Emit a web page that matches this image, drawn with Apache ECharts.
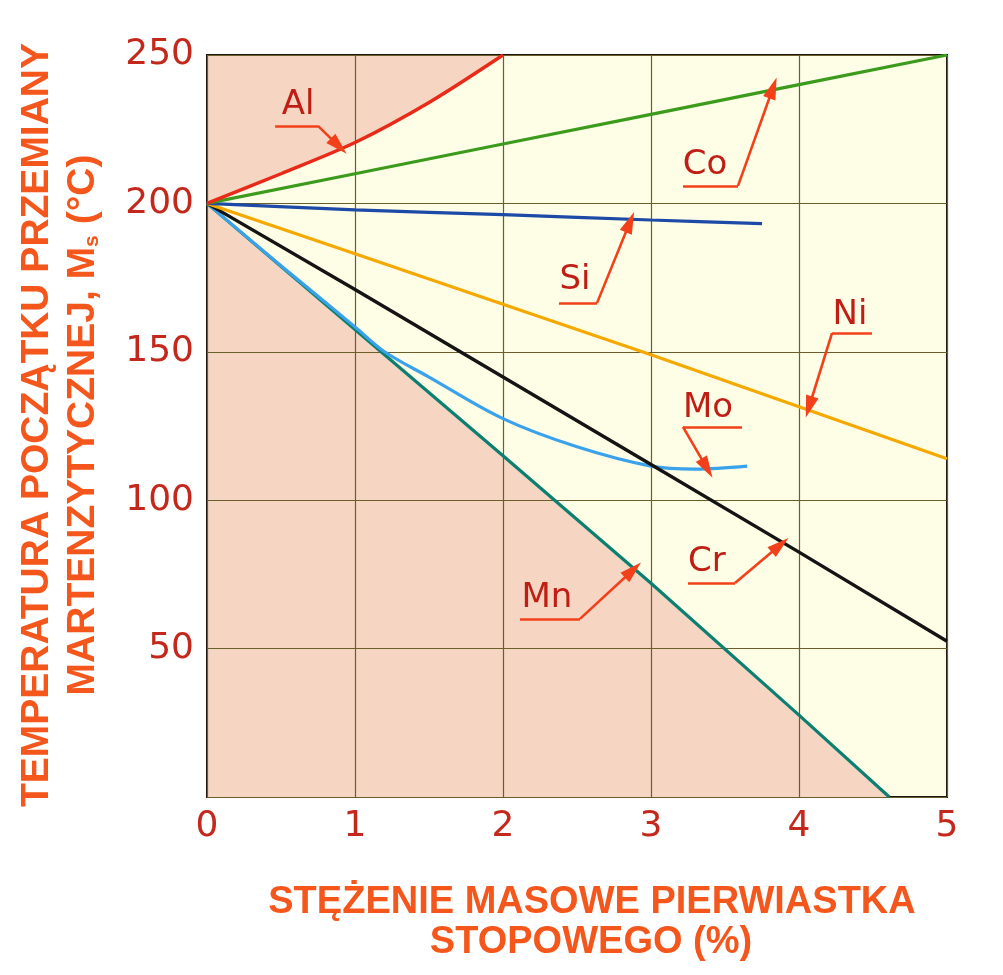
<!DOCTYPE html>
<html>
<head>
<meta charset="utf-8">
<script src="https://cdn.jsdelivr.net/npm/echarts@6/dist/echarts.min.js"></script>
<style>
html,body{margin:0;padding:0;background:#fff;}
#chart{width:1003px;height:975px;}
</style>
</head>
<body>
<div id="chart"></div>
<script>
// ---- data (concentration %, Ms temperature °C) ----
const xTicks = [0, 1, 2, 3, 4, 5];
const yTicks = [50, 100, 150, 200, 250];
const alData = [[0,200],[0.5,210],[1,220.5],[1.5,234],[2,250]];
const coData = [[0,200],[1,210],[2,220],[3,230],[4,240],[5,250]];
const siData = [[0,200],[1,197.8],[2,196.2],[3,194.4],[3.75,193.2]];
const niData = [[0,200],[1,183],[2,166],[3,149],[4,131.5],[5,114]];
const crData = [[0,200],[1,171],[2,141.5],[3,112],[4,82.5],[5,52.5]];
const moData = [[0,200],[0.5,179],[1,158.4],[1.2,150],[1.5,141.5],[2,127.5],[2.5,118],[3,111.5],[3.3,110.5],[3.65,111.5]];
const mnData = [[0,200],[1,157.5],[2,115],[3,72],[4,27.6],[4.61,0]];

// ---- annotations: [name, textPos, underline start, underline end (leader start), arrow tip] ----
const annotations = [
  ['Al', [0.615,233], [0.46,226.1], [0.75,226.1], [0.89,219.3]],
  ['Co', [3.365,212.9], [3.216,205.9], [3.588,205.9], [3.824,238.9]],
  ['Si', [2.486,174.2], [2.378,166.4], [2.635,166.4], [2.858,193.7]],
  ['Ni', [4.345,162.4], [4.493,156.3], [4.223,156.3], [4.068,131.4]],
  ['Mo', [3.385,131.1], [3.615,124.7], [3.216,124.7], [3.378,110.8]],
  ['Cr', [3.378,79.2], [3.25,72.1], [3.568,72.1], [3.872,84.9]],
  ['Mn', [2.297,67.0], [2.115,60.0], [2.52,60.0], [2.878,76.5]]
];

const chart = echarts.init(document.getElementById('chart'), null, {renderer:'canvas'});

const PINK = '#f6d6c2';
const YELLOW = '#fefee6';
const TICK_RED = '#c4281c';
const TITLE_ORANGE = '#f4561c';
const ANN_RED = '#c01e14';
const ARROW_RED = '#f2401a';

function lineSeries(name, data, color, width, smooth, extra) {
  return Object.assign({
    name: name, type: 'line', data: data, smooth: smooth,
    showSymbol: false, symbol: 'none', z: 4, silent: true,
    lineStyle: {color: color, width: width},
    emphasis: {disabled: true}
  }, extra || {});
}

const annMarkData = [];
annotations.forEach(a => {
  annMarkData.push([{coord: a[2], symbol: 'none'}, {coord: a[3], symbol: 'none'}]);
  annMarkData.push([{coord: a[3], symbol: 'none'}, {coord: a[4], symbol: 'triangle', symbolSize: [13, 22]}]);
});

const option = {
  animation: false,
  grid: {
    left: 207, right: 56, top: 55, bottom: 178,
    show: true, backgroundColor: YELLOW, borderColor: '#1a1410', borderWidth: 2
  },
  xAxis: {
    type: 'value', min: 0, max: 5, interval: 1, z: 3,
    axisLine: {show: false}, axisTick: {show: false},
    splitLine: {show: true, lineStyle: {color: '#6a5e2a', width: 1.2}},
    axisLabel: {
      color: TICK_RED, fontSize: 36, fontFamily: 'DejaVu Sans', margin: 12,
      formatter: v => xTicks.includes(v) ? String(v) : ''
    }
  },
  yAxis: {
    type: 'value', min: 0, max: 250, interval: 50, z: 3,
    axisLine: {show: false}, axisTick: {show: false},
    splitLine: {show: true, lineStyle: {color: '#6a5e2a', width: 1.2}},
    axisLabel: {
      color: TICK_RED, fontSize: 36, fontFamily: 'DejaVu Sans', margin: 13,
      formatter: v => yTicks.includes(v) ? String(v) : ''
    }
  },
  series: [
    // shaded regions
    lineSeries('AlArea', alData, 'transparent', 0, 0.3, {z: 1, areaStyle: {color: PINK, opacity: 1, origin: 'end'}}),
    lineSeries('MnArea', mnData, 'transparent', 0, false, {z: 1, areaStyle: {color: PINK, opacity: 1, origin: 'start'}}),
    // curves
    lineSeries('Mn', mnData, '#0c8070', 3.2, false),
    lineSeries('Mo', moData, '#3aa2ea', 3.2, 0.35),
    lineSeries('Cr', crData, '#141414', 3.4, false),
    lineSeries('Ni', niData, '#f5a800', 3.2, false),
    lineSeries('Si', siData, '#1c4aa6', 3.2, 0.3),
    lineSeries('Co', coData, '#3c9a1c', 3.2, false),
    lineSeries('Al', alData, '#ea2a18', 3.4, 0.3),
    // annotations
    {
      name: 'labels', type: 'scatter', z: 6, silent: true,
      symbolSize: 1, itemStyle: {color: 'transparent', opacity: 1},
      data: annotations.map(a => ({value: a[1], name: a[0]})),
      label: {
        show: true, position: 'inside', formatter: p => p.name,
        color: ANN_RED, fontSize: 34, fontFamily: 'DejaVu Sans', opacity: 1,
        textBorderWidth: 0, textBorderColor: 'transparent'
      },
      emphasis: {disabled: true},
      markLine: {
        silent: true, animation: false,
        symbol: ['none', 'none'],
        label: {show: false},
        lineStyle: {color: ARROW_RED, width: 2.6, type: 'solid', opacity: 1},
        itemStyle: {opacity: 1},
        emphasis: {disabled: true},
        data: annMarkData
      }
    }
  ],
  graphic: [
    {
      type: 'text', x: 37, y: 425, rotation: Math.PI / 2,
      style: {
        text: 'TEMPERATURA POCZĄTKU PRZEMIANY',
        fill: TITLE_ORANGE, font: 'bold 39px "Liberation Sans"',
        align: 'center', verticalAlign: 'middle'
      }
    },
    {
      type: 'text', x: 83, y: 425, rotation: Math.PI / 2,
      style: {
        text: 'MARTENZYTYCZNEJ, M{sub|s} (°C)',
        fill: TITLE_ORANGE, font: 'bold 39px "Liberation Sans"',
        fontSize: 39, fontWeight: 'bold', fontFamily: 'Liberation Sans',
        align: 'center', verticalAlign: 'middle',
        rich: {
          sub: {fontSize: 21, fontWeight: 'bold', fontFamily: 'Liberation Sans', fill: TITLE_ORANGE, verticalAlign: 'bottom', padding: [15, 0, 0, 0]}
        }
      }
    },
    {
      type: 'text', x: 592, y: 903,
      style: {
        text: 'STĘŻENIE MASOWE PIERWIASTKA',
        fill: TITLE_ORANGE, font: 'bold 38px "Liberation Sans"',
        align: 'center', verticalAlign: 'middle'
      }
    },
    {
      type: 'text', x: 591, y: 943,
      style: {
        text: 'STOPOWEGO (%)',
        fill: TITLE_ORANGE, font: 'bold 38px "Liberation Sans"',
        align: 'center', verticalAlign: 'middle'
      }
    }
  ]
};
chart.setOption(option);
</script>
</body>
</html>
